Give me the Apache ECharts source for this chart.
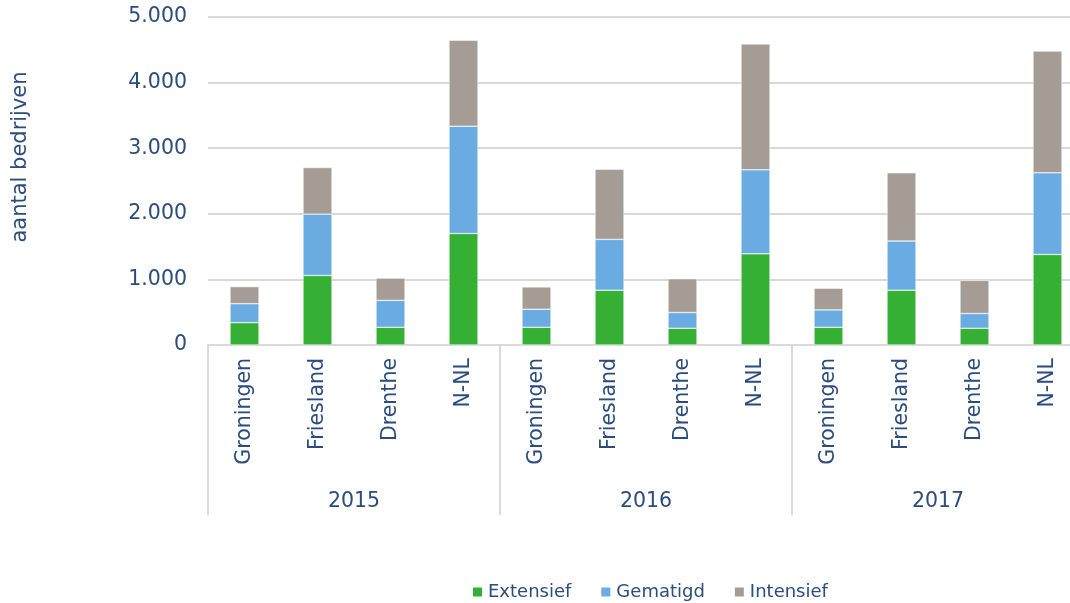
<!DOCTYPE html>
<html>
<head>
<meta charset="utf-8">
<script src="https://cdn.jsdelivr.net/npm/echarts@6/dist/echarts.min.js"></script>
<style>
  html, body { margin: 0; padding: 0; background: #fff; }
  #main { width: 1070px; height: 603px; }
</style>
</head>
<body>
<div id="main"></div>
<script>
// categorieen: provincie per jaar
const regions = ['Groningen', 'Friesland', 'Drenthe', 'N-NL'];
const years = ['2015', '2016', '2017'];
const categories = [
  'Groningen', 'Friesland', 'Drenthe', 'N-NL',
  'Groningen', 'Friesland', 'Drenthe', 'N-NL',
  'Groningen', 'Friesland', 'Drenthe', 'N-NL'
];

const extensief = [340, 1060, 270, 1700, 270, 835, 255, 1390, 270, 835, 255, 1380];
const gematigd = [290, 935, 410, 1635, 275, 775, 240, 1280, 265, 750, 225, 1245];
const intensief = [260, 710, 340, 1310, 340, 1070, 515, 1920, 330, 1040, 505, 1855];

const yTicks = [0, 1000, 2000, 3000, 4000, 5000];

const textColor = '#2A4C7E';
const lineColor = '#D9D9D9';
const font = 'DejaVu Sans';

let myChart = echarts.init(document.getElementById('main'));

function fmt(v) {
  // 5000 -> 5.000
  return String(v).replace(/\B(?=(\d{3})+(?!\d))/g, '.');
}

let option = {
  animation: false,
  color: ['#35B035', '#6AACE2', '#A59C95'],
  textStyle: { fontFamily: font },
  grid: {
    left: 208,
    top: 17,
    width: 876,
    height: 328,
    outerBoundsMode: 'none'
  },
  legend: {
    left: 466,
    top: 578,
    icon: 'rect',
    itemWidth: 11,
    itemHeight: 11,
    itemGap: 28,
    textStyle: { color: textColor, fontSize: 18, fontFamily: font },
    data: ['Extensief', 'Gematigd', 'Intensief']
  },
  graphic: [{
    type: 'text',
    x: 21,
    y: 157,
    rotation: Math.PI / 2,
    style: {
      text: 'aantal bedrijven',
      fill: textColor,
      font: '21px "DejaVu Sans"',
      align: 'center',
      verticalAlign: 'middle'
    }
  }],
  xAxis: [
    {
      type: 'category',
      data: categories,
      axisLine: { lineStyle: { color: lineColor, width: 2 } },
      axisTick: { show: false },
      axisLabel: {
        rotate: 90,
        interval: 0,
        margin: 13,
        color: textColor,
        fontSize: 20.5,
        fontFamily: font
      }
    },
    {
      type: 'category',
      position: 'bottom',
      data: years,
      axisLine: { show: false },
      axisTick: {
        show: true,
        length: 170,
        lineStyle: { color: lineColor, width: 2 }
      },
      axisLabel: {
        margin: 146,
        color: textColor,
        fontSize: 20.5,
        fontFamily: font
      }
    }
  ],
  yAxis: {
    type: 'value',
    min: yTicks[0],
    max: yTicks[yTicks.length - 1],
    interval: 1000,
    axisLine: { show: false },
    axisTick: { show: false },
    splitLine: { lineStyle: { color: lineColor, width: 2 } },
    axisLabel: {
      margin: 21,
      color: textColor,
      fontSize: 20.5,
      fontFamily: font,
      formatter: fmt
    }
  },
  series: [
    { name: 'Extensief', type: 'bar', stack: 'tot', barWidth: 29, data: extensief,
      itemStyle: { borderColor: '#fff', borderWidth: 0.5 } },
    { name: 'Gematigd', type: 'bar', stack: 'tot', barWidth: 29, data: gematigd,
      itemStyle: { borderColor: '#fff', borderWidth: 0.5 } },
    { name: 'Intensief', type: 'bar', stack: 'tot', barWidth: 29, data: intensief,
      itemStyle: { borderColor: '#fff', borderWidth: 0.5 } }
  ]
};

myChart.setOption(option);
</script>
</body>
</html>
